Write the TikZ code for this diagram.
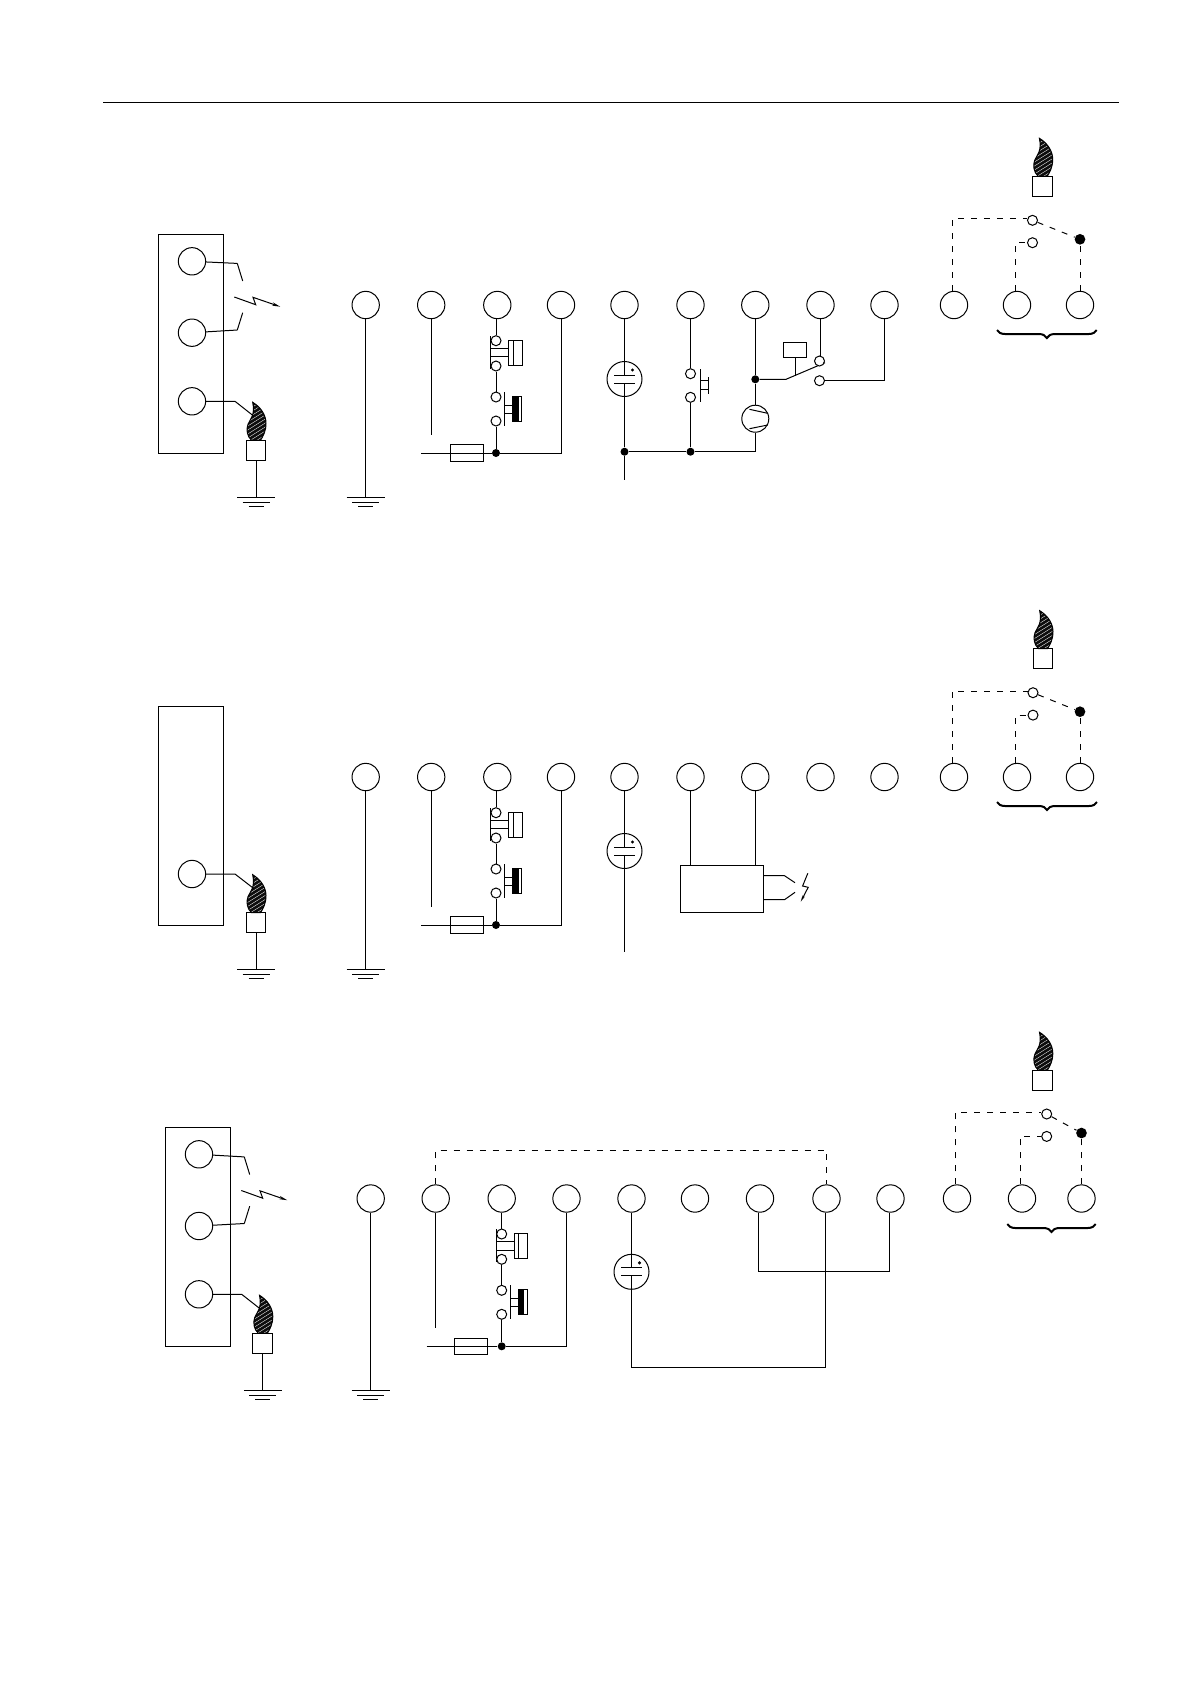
\documentclass[tikz,border=0pt]{standalone}
\usepackage{tikz}
\usetikzlibrary{arrows.meta}
\usetikzlibrary{decorations.pathreplacing}
\tikzstyle{wire} = [draw=black, line width=0.6pt]
\tikzstyle{dashwire} = [wire, dash pattern=on 3.6pt off 4.2pt]
\tikzstyle{term} = [circle, draw=black, line width=0.6pt, minimum size=16.4pt, inner sep=0pt]
\tikzstyle{contact} = [circle, draw=black, fill=white, line width=0.6pt, minimum size=6pt, inner sep=0pt]
\tikzstyle{joint} = [circle, fill=black, minimum size=4.8pt, inner sep=0pt]
\tikzstyle{bigjoint} = [circle, fill=black, minimum size=6.4pt, inner sep=0pt]
\tikzstyle{panel} = [rectangle, draw=black, line width=0.6pt, minimum width=39pt, minimum height=131.4pt, inner sep=0pt]
\tikzstyle{fuse} = [rectangle, draw=black, line width=0.6pt, minimum width=20pt, minimum height=9.8pt, inner sep=0pt]
\tikzstyle{holder} = [rectangle, draw=black, line width=0.6pt, minimum width=11.8pt, minimum height=12pt, inner sep=0pt]
\tikzstyle{relay} = [rectangle, draw=black, line width=0.6pt, minimum width=14pt, minimum height=9pt, inner sep=0pt]
\tikzstyle{igniter} = [rectangle, draw=black, line width=0.6pt, minimum width=49.7pt, minimum height=27.8pt, inner sep=0pt]
\tikzstyle{pump} = [circle, draw=black, line width=0.6pt, minimum size=16.2pt, inner sep=0pt]
\tikzstyle{sensor} = [circle, draw=black, line width=0.6pt, minimum size=21pt, inner sep=0pt]
\tikzstyle{bracewire} = [draw=black, line width=1.2pt, decorate, decoration={brace, mirror, amplitude=4.8pt}]

\newcommand{\flamepath}{(-4.5,0) .. controls (-9,-4) and (-10,-11) .. (-8,-16) .. controls (-6,-21) and (-0.5,-25) .. (-3.3,-38) .. controls (5,-33) and (10,-25) .. (10,-17) .. controls (10,-9) and (7,-4) .. (4.5,0) -- cycle}
\newcommand{\termrow}[3]{\foreach \n/\x in {#3} {\node[term] (#1\n) at (\x,#2) {};}}
\newcommand{\selector}[5]{%
    \node[contact] (#1s1) at (#2,#3) {};
    \node[contact] (#1s2) at (#2,#3+22.4) {};
    \node[bigjoint] (#1s3) at (#4,#5) {};
    \draw[dashwire] ([xshift=-1.2pt]#110.north) |- ([yshift=0.9pt]#1s1.west);
    \draw[dashwire] ([xshift=-1pt]#111.north) |- (#1s2);
    \draw[dashwire] (#112) -- (#1s3);
    \draw[dashwire] (#1s1) -- (#1s3);
}

\tikzset{
    burner/.pic={
        \begin{scope}
            \clip \flamepath;
            \fill[black!95] (-12,-40) rectangle (12,2);
            \foreach \i in {-28,-24,...,16} {
                \draw[white, line width=0.2pt] (-12,\i) -- (12,\i-15);
            }
        \end{scope}
        \draw[wire] \flamepath;
        \node[holder] (-box) at (0,10) {};
        \coordinate (-tip) at (-2,-24);
    },
    earth/.pic={
        \coordinate (-top) at (0,0);
        \draw[wire] (-19,0) -- (19,0);
        \draw[wire] (-13.5,5) -- (13.5,5);
        \draw[wire] (-7.5,9.5) -- (7.5,9.5);
    },
    sparkgap/.pic={
        \coordinate (-up) at (0,-33.3);
        \coordinate (-lo) at (0,33.3);
        \draw[wire] (-up) -- (5.4,-15.7);
        \draw[wire] (-lo) -- (5.4,16);
        \draw[wire, -{Stealth[length=5pt, width=2pt]}] (-3,0.3) -- (18.4,8) -- (15.7,0.6) -- (43,10);
    },
    pics/limits/.style={code={
        \node[joint] (-d) at (0,0) {};
        \node[contact] (-c1) at (0,-112.3) {};
        \node[contact] (-c2) at (0,-87) {};
        \node[contact] (-c3) at (0,-56) {};
        \node[contact] (-c4) at (0,-32) {};
        \node[fuse] (-f) at (#1,0) {};
        \coordinate (-in) at (-75,0);
        \draw[wire] (-c2) -- (-c3);
        \draw[wire] (-c4) -- (-d);
        \draw[wire] (-in) -- (-d);
        \draw[wire] (-5.5,-117) -- (-5.5,-84);
        \draw[wire] (-5.5,-104.7) -- (12.6,-104.7);
        \draw[wire] (-5.5,-96.3) -- (12.6,-96.3);
        \draw[wire] (12.6,-112.7) rectangle (26,-87.7);
        \draw[wire] (17,-112.7) -- (17,-87.7);
        \draw[wire] (8.3,-61) -- (8.3,-27.3);
        \draw[wire] (8.3,-48) -- (16.6,-48);
        \draw[wire] (8.3,-39.7) -- (16.6,-39.7);
        \fill[black] (16.6,-56.7) rectangle (22.6,-32);
        \draw[wire] (16.6,-56.7) rectangle (25.3,-32);
    }},
    flowcap/.pic={
        \node[sensor] (-c) at (0,0) {};
        \coordinate (-up) at (0,-4);
        \coordinate (-lo) at (0,4);
        \draw[wire] (-10.5,-4) -- (10.5,-4);
        \draw[wire] (-10.5,4) -- (10.5,4);
        \fill[black] (8,-9) circle (1.7);
    },
}

\begin{document}
\begin{tikzpicture}[x=0.6pt, y=-0.6pt]
    \useasboundingbox (0,0) rectangle (1190,1684);
    \node[inner sep=0pt] (rulea) at (102,102.3) {};
    \node[inner sep=0pt] (ruleb) at (1120,102.3) {};
    \draw[wire] (rulea) -- (ruleb);

    % first row
    \node[panel] (pa) at (190.8,343.7) {};
    \node[term] (pa1) at (192,261.3) {};
    \node[term] (pa2) at (192,332.7) {};
    \node[term] (pa3) at (192,401.3) {};
    \pic (sa) at (237.3,296.7) {sparkgap};
    \draw[wire] (pa1) -- (sa-up);
    \draw[wire] (pa2) -- (sa-lo);
    \pic (fa) at (256,440.3) {burner};
    \pic (ga) at (256,497) {earth};
    \coordinate (ka) at (235,401.3);
    \draw[wire] (pa3) -- (ka) -- (fa-tip);
    \draw[wire] (fa-box) -- (ga-top);

    \termrow{a}{305}{1/365.7,2/431.2,3/497.3,4/561,5/624.5,6/690.5,7/755.3,8/820.5,9/884.5,10/954,11/1017,12/1080}
    \pic (ta) at (365.7,497) {earth};
    \draw[wire] (a1) -- (ta-top);
    \coordinate (ae2) at (431.2,434.7);
    \draw[wire] (a2) -- (ae2);
    \pic (la) at (496,453) {limits=-29};
    \draw[wire] (la-c1 |- a3.south) -- (la-c1);
    \draw[wire] (a4) |- (la-d);
    \pic (ca) at (624.5,379) {flowcap};
    \node[joint] (ad5) at (624.5,451.7) {};
    \coordinate (ae5) at (624.5,480);
    \draw[wire] (a5) -- (ca-up);
    \draw[wire] (ca-lo) -- (ad5) -- (ae5);
    \node[contact] (ak1) at (690.5,373.7) {};
    \node[contact] (ak2) at (690.5,397.3) {};
    \node[joint] (ad6) at (690.5,451.7) {};
    \draw[wire] (a6) -- (ak1);
    \draw[wire] (ak2) -- (ad6);
    \draw[wire] (700,369) -- (700,402.3);
    \draw[wire] (700,380.7) -- (708,380.7);
    \draw[wire] (700,389.3) -- (708,389.3);
    \draw[wire] (708,377) -- (708,394);
    \node[joint] (ad7) at (755.3,379.3) {};
    \node[pump] (am) at (755.3,418.7) {};
    \draw[wire] (a7) -- (ad7) -- (am);
    \draw[wire] (am) |- (ad6);
    \draw[wire] (ad6) -- (ad5);
    \draw[wire] (749.5,409.3) -- (767.7,413.3);
    \draw[wire] (749.5,428.7) -- (767.7,425);
    \node[relay] (ar) at (795,349.8) {};
    \coordinate (ar1) at (786,379.3);
    \coordinate (ar2) at (825,362.7);
    \coordinate (ar3) at (795,375.5);
    \draw[wire] (ad7) -- (ar1) -- (ar2);
    \draw[wire] (ar) -- (ar3);
    \node[contact] (ak3) at (819.5,361) {};
    \node[contact] (ak4) at (819.5,380.7) {};
    \draw[wire] (a8) -- (a8 |- ak3.north);
    \draw[wire] (a9) |- (ak4);
    \pic (fd) at (1042.7,176.3) {burner};
    \selector{a}{1032.5}{220.3}{1080}{239.3}
    \coordinate (abl) at (997,330);
    \coordinate (abr) at (1096.7,330);
    \draw[bracewire] (abl) -- (abr);

    % second row
    \node[panel] (pb) at (190.8,815.7) {};
    \node[term] (pb3) at (192,874) {};
    \pic (fb) at (256,912.7) {burner};
    \pic (gb) at (256,969) {earth};
    \coordinate (kb) at (235,874);
    \draw[wire] (pb3) -- (kb) -- (fb-tip);
    \draw[wire] (fb-box) -- (gb-top);

    \termrow{b}{777}{1/365.7,2/431.2,3/497.3,4/561,5/624.5,6/690.5,7/755.3,8/820.5,9/884.5,10/954,11/1017,12/1080}
    \pic (tb) at (365.7,969) {earth};
    \draw[wire] (b1) -- (tb-top);
    \coordinate (be2) at (431.2,906.7);
    \draw[wire] (b2) -- (be2);
    \pic (lb) at (496,925) {limits=-29};
    \draw[wire] (lb-c1 |- b3.south) -- (lb-c1);
    \draw[wire] (b4) |- (lb-d);
    \pic (cb) at (624.5,851) {flowcap};
    \coordinate (be5) at (624.5,951.7);
    \draw[wire] (b5) -- (cb-up);
    \draw[wire] (cb-lo) -- (be5);
    \node[igniter] (bq) at (722.1,888.9) {};
    \draw[wire] (b6) -- (b6 |- bq.north);
    \draw[wire] (b7) -- (b7 |- bq.north);
    \draw[wire] (bq.east |- 0,875.7) -- (784.5,875.7) -- (795,882.7);
    \draw[wire] (bq.east |- 0,899.7) -- (784.5,899.7) -- (795,892.3);
    \draw[wire, -{Stealth[length=4pt, width=1.6pt]}] (807.8,873.3) -- (802.6,886) -- (808.2,887.3) -- (800.7,901.7);
    \pic (fe) at (1043,648.7) {burner};
    \selector{b}{1033}{692.7}{1080}{711.7}
    \coordinate (bbl) at (997,802);
    \coordinate (bbr) at (1097,802);
    \draw[bracewire] (bbl) -- (bbr);

    % third row
    \node[panel] (pc) at (197.8,1236.8) {};
    \node[term] (pc1) at (199,1154.3) {};
    \node[term] (pc2) at (199,1226) {};
    \node[term] (pc3) at (199,1294.3) {};
    \pic (sc) at (244.3,1190.2) {sparkgap};
    \draw[wire] (pc1) -- (sc-up);
    \draw[wire] (pc2) -- (sc-lo);
    \pic (fc) at (262.8,1333.3) {burner};
    \pic (gc) at (262.8,1390.3) {earth};
    \coordinate (kc) at (241.7,1294.3);
    \draw[wire] (pc3) -- (kc) -- (fc-tip);
    \draw[wire] (fc-box) -- (gc-top);

    \termrow{c}{1198.5}{1/370.7,2/435.7,3/501.7,4/566.5,5/631.5,6/695,7/760,8/826.5,9/890.5,10/957,11/1022,12/1081.5}
    \pic (tc) at (370.7,1390.3) {earth};
    \draw[wire] (c1) -- (tc-top);
    \coordinate (ce2) at (435.7,1328);
    \draw[wire] (c2) -- (ce2);
    \pic (lc) at (501.7,1346.3) {limits=-31};
    \draw[wire] (c3) -- (lc-c1);
    \draw[wire] (c4) |- (lc-d);
    \pic (cc) at (631.5,1271.8) {flowcap};
    \coordinate (cm) at (825.7,1367.3);
    \coordinate (cj) at (758.5,1271);
    \coordinate (ck) at (889.3,1271);
    \coordinate (cq) at (826.5,1150.3);
    \draw[wire] (c5) -- (cc-up);
    \draw[wire] (cc-lo) |- (cm) -- (cm |- c8.south);
    \draw[wire] (cj |- c7.south) -- (cj) -- (ck) -- (ck |- c9.south);
    \draw[dashwire] (c2) |- (cq) -- (c8);
    \pic (ff) at (1042.8,1070.3) {burner};
    \selector{c}{1046.7}{1114}{1081.5}{1133}
    \coordinate (cbl) at (1007.3,1224);
    \coordinate (cbr) at (1095.7,1224);
    \draw[bracewire] (cbl) -- (cbr);
\end{tikzpicture}
\end{document}
